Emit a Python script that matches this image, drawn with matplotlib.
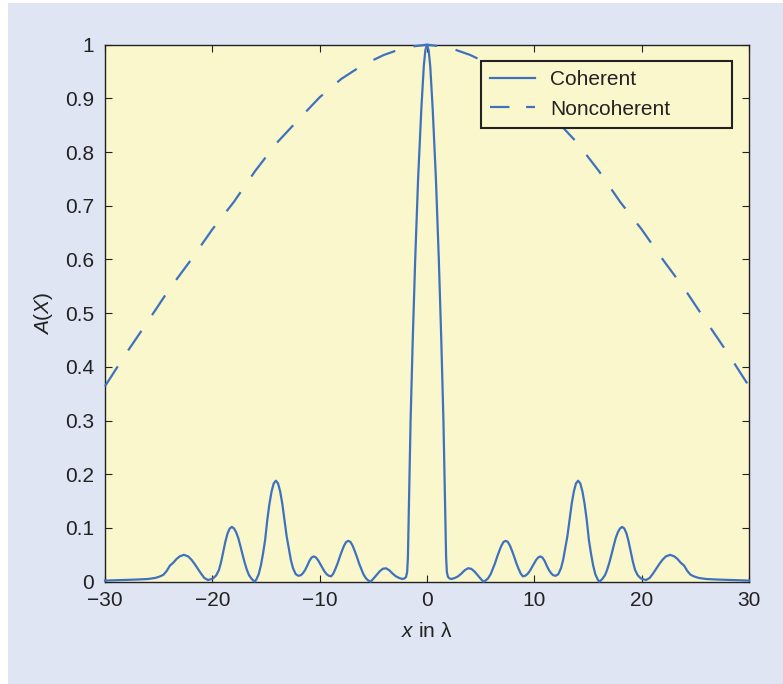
import numpy as np
import matplotlib.pyplot as plt
from matplotlib.patches import Rectangle

plt.rcParams['font.family'] = ['Liberation Sans', 'DejaVu Sans']
plt.rcParams['mathtext.fontset'] = 'custom'
plt.rcParams['mathtext.rm'] = 'Liberation Sans'
plt.rcParams['mathtext.it'] = 'Liberation Sans:italic'
plt.rcParams['lines.scale_dashes'] = False

# coherent pattern, half x >= 0 (pattern is symmetric)
x_coh_half = np.array([
    0.00, 0.15, 0.30, 0.53, 0.83, 1.10, 1.33, 1.53, 1.68, 1.78, 1.85, 1.95, 2.10, 2.30,
    2.60, 2.90, 3.20, 3.50, 3.82, 4.12, 4.42, 4.72, 5.02, 5.25,
    5.45, 5.68, 5.93, 6.13, 6.33, 6.53, 6.73, 6.93, 7.13, 7.33, 7.53, 7.73, 7.93, 8.13,
    8.33, 8.53, 8.73, 8.93,
    9.15, 9.35, 9.55, 9.75, 9.95, 10.15, 10.35, 10.55, 10.75, 10.95, 11.15, 11.35, 11.55,
    11.75, 12.00,
    12.23, 12.48, 12.68, 12.88, 13.08, 13.28, 13.48, 13.68, 13.88, 14.08, 14.28, 14.48,
    14.68, 14.88, 15.08, 15.28, 15.48, 15.68, 15.90, 16.07,
    16.33, 16.58, 16.78, 16.98, 17.18, 17.38, 17.58, 17.78, 17.98, 18.18, 18.38, 18.58,
    18.78, 18.98, 19.18, 19.38, 19.63, 19.93, 20.40,
    20.75, 21.05, 21.35, 21.65, 21.95, 22.25, 22.65, 23.05, 23.35, 23.65, 23.95, 24.25,
    24.55, 24.85, 25.30, 26.00, 27.00, 28.50, 30.00])
y_coh_half = np.array([
    1.000, 0.990, 0.960, 0.880, 0.750, 0.600, 0.450, 0.300, 0.150, 0.045, 0.018, 0.009, 0.006, 0.005,
    0.007, 0.010, 0.015, 0.021, 0.025, 0.024, 0.019, 0.012, 0.005, 0.000,
    0.002, 0.006, 0.014, 0.024, 0.034, 0.046, 0.057, 0.067, 0.074, 0.076, 0.074, 0.067, 0.057, 0.046,
    0.034, 0.024, 0.015, 0.010,
    0.011, 0.014, 0.019, 0.026, 0.033, 0.040, 0.045, 0.047, 0.045, 0.039, 0.030, 0.022, 0.016,
    0.012, 0.011,
    0.014, 0.025, 0.040, 0.062, 0.085, 0.115, 0.145, 0.168, 0.183, 0.188, 0.183, 0.168,
    0.145, 0.115, 0.078, 0.052, 0.030, 0.014, 0.004, 0.000,
    0.005, 0.012, 0.022, 0.035, 0.050, 0.066, 0.081, 0.092, 0.099, 0.102, 0.099, 0.090,
    0.075, 0.056, 0.037, 0.022, 0.012, 0.006, 0.003,
    0.007, 0.015, 0.024, 0.033, 0.041, 0.047, 0.050, 0.047, 0.042, 0.035, 0.030, 0.020,
    0.013, 0.010, 0.007, 0.005, 0.004, 0.003, 0.002])

# noncoherent pattern, half x >= 0
x_nc_half = np.array([0, 2, 4, 6, 8, 10, 12, 14, 16, 18, 20, 22, 24, 26, 28, 30])
y_nc_half = np.array([1.000, 0.995, 0.981, 0.962, 0.936, 0.902, 0.860, 0.817,
                      0.765, 0.707, 0.656, 0.599, 0.545, 0.485, 0.426, 0.364])

# mirror to full range -30..30
x_coh = np.concatenate([-x_coh_half[:0:-1], x_coh_half])
y_coh = np.concatenate([y_coh_half[:0:-1], y_coh_half])
x_nc = np.concatenate([-x_nc_half[:0:-1], x_nc_half])
y_nc = np.concatenate([y_nc_half[:0:-1], y_nc_half])

azul = '#3E72BE'
amarelo = '#FAF7CD'

fig = plt.figure(figsize=(7.83, 6.84), dpi=100)
fig.patch.set_facecolor('white')
fundo = Rectangle((8 / 783, 0), 775 / 783, 681 / 684, transform=fig.transFigure,
                  facecolor='#DFE5F3', edgecolor='none', zorder=-10)
fig.add_artist(fundo)

ax = fig.add_axes([0.1341, 0.1496, 0.8225, 0.7851])
ax.set_facecolor(amarelo)

ax.plot(x_coh, y_coh, color=azul, lw=1.6, label='Coherent', clip_on=False, zorder=3)
ax.plot(x_nc, y_nc, color=azul, lw=1.6, linestyle=(0, (17, 13.7)),
        label='Noncoherent', clip_on=False, zorder=3)

ax.set_xlim(-30, 30)
ax.set_ylim(0, 1)
ax.set_xticks(np.arange(-30, 31, 10))
ax.set_xticklabels(['\u221230', '\u221220', '\u221210', '0', '10', '20', '30'])
ax.set_yticks(np.arange(0, 1.01, 0.1))
ax.set_yticklabels(['0', '0.1', '0.2', '0.3', '0.4', '0.5', '0.6', '0.7', '0.8', '0.9', '1'])
ax.tick_params(direction='in', top=True, right=True, length=5.3, width=0.8,
               labelsize=15, colors='#222222', pad=8)
ax.tick_params(axis='x', pad=7)
for s in ax.spines.values():
    s.set_color('#222222')
    s.set_linewidth(1.0)

ax.set_xlabel(r'$x$ in λ', fontsize=15, color='#222222', labelpad=8)
ax.set_ylabel(r'$A$($X$)', fontsize=15, color='#222222', labelpad=7)

# legend box stretched to the width seen in the reference
leg = ax.legend(loc='upper left', bbox_to_anchor=(0.5839, 0.8467, 0.3897, 0.1229),
                mode='expand', borderaxespad=0,
                fontsize=15, fancybox=False, framealpha=1, facecolor=amarelo,
                edgecolor='#222222', handlelength=2.15, handletextpad=0.72,
                labelspacing=0.5, borderpad=0.45)
leg.get_frame().set_linewidth(1.5)
leg.get_lines()[1].set_linestyle((0, (14, 12)))
for t in leg.get_texts():
    t.set_color('#222222')

plt.savefig('out.png', dpi=100, facecolor=fig.get_facecolor())
